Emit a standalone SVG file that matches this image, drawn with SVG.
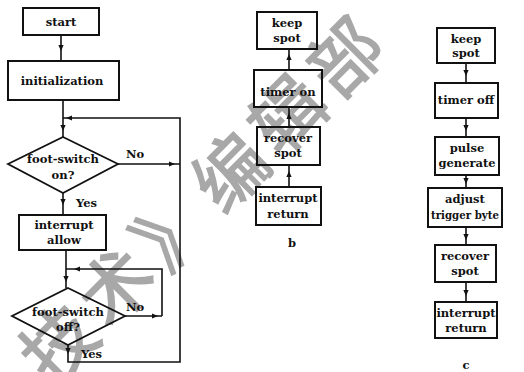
<svg xmlns="http://www.w3.org/2000/svg" xmlns:xlink="http://www.w3.org/1999/xlink" width="524" height="372" viewBox="0 0 524 372">
  <style>
    .box { fill: none; stroke: #111; stroke-width: 2; }
    .dec { fill: none; stroke: #111; stroke-width: 1.8; stroke-linejoin: miter; }
    .ln { fill: none; stroke: #111; stroke-width: 1.6; }
    .t { font-family: "DejaVu Serif", "Liberation Serif", serif; font-weight: bold; font-size: 11.5px; fill: #111; text-anchor: middle; }
    .lbl { font-family: "DejaVu Serif", "Liberation Serif", serif; font-weight: bold; font-size: 11.5px; fill: #111; }
    .wm { font-family: "Noto Sans CJK SC", sans-serif; font-weight: normal; font-size: 72px; letter-spacing: 9px; fill: #a8a8a8; stroke: #a8a8a8; stroke-width: 1.6; }
  </style>
  <defs>
    <path id="ah" d="M0,0 L-6,-2.6 L-6,2.6 Z" fill="#111"/>
  </defs>

  <!-- publisher watermark -->
  <g id="watermark">
    <text class="wm" transform="translate(52,388) rotate(-45)">技术》编辑部</text>
  </g>

  <!-- connectors -->
  <g id="connectors">
    <!-- chart a -->
    <path class="ln" d="M61,35 V61"/>
    <use xlink:href="#ah" transform="translate(61,51) rotate(90)"/>
    <path class="ln" d="M63,100 V137"/>
    <use xlink:href="#ah" transform="translate(63,131) rotate(90)"/>
    <path class="ln" d="M180,164 V118 H63"/>
    <use xlink:href="#ah" transform="translate(66,118) rotate(180)"/>
    <path class="ln" d="M118,164 H180"/>
    <use xlink:href="#ah" transform="translate(175,164)"/>
    <path class="ln" d="M63,193 V215"/>
    <use xlink:href="#ah" transform="translate(63,205) rotate(90)"/>
    <path class="ln" d="M66,250 V288"/>
    <use xlink:href="#ah" transform="translate(66,282) rotate(90)"/>
    <path class="ln" d="M162,316 V269 H66"/>
    <use xlink:href="#ah" transform="translate(74,269) rotate(180)"/>
    <path class="ln" d="M125,316 H162"/>
    <use xlink:href="#ah" transform="translate(158,316)"/>
    <path class="ln" d="M68,345 V362 H180 V164"/>
    <use xlink:href="#ah" transform="translate(68,354) rotate(90)"/>

    <!-- chart b -->
    <path class="ln" d="M289,49 V70"/>
    <use xlink:href="#ah" transform="translate(289,54) rotate(-90)"/>
    <path class="ln" d="M289,107 V127"/>
    <use xlink:href="#ah" transform="translate(289,113) rotate(-90)"/>
    <path class="ln" d="M289,165 V187"/>
    <use xlink:href="#ah" transform="translate(289,171) rotate(-90)"/>

    <!-- chart c -->
    <path class="ln" d="M466,63 V83"/>
    <use xlink:href="#ah" transform="translate(466,76) rotate(90)"/>
    <path class="ln" d="M466,118 V137"/>
    <use xlink:href="#ah" transform="translate(466,131) rotate(90)"/>
    <path class="ln" d="M466,175 V188"/>
    <use xlink:href="#ah" transform="translate(466,184) rotate(90)"/>
    <path class="ln" d="M466,227 V245"/>
    <use xlink:href="#ah" transform="translate(466,240) rotate(90)"/>
    <path class="ln" d="M466,282 V302"/>
    <use xlink:href="#ah" transform="translate(466,296) rotate(90)"/>
  </g>

  <!-- chart a nodes -->
  <g id="a-start">
    <rect class="box" x="23" y="8" width="76" height="27"/>
    <text class="t" x="61" y="26">start</text>
  </g>
  <g id="a-init">
    <rect class="box" x="8" y="61" width="111" height="39"/>
    <text class="t" x="62" y="85">initialization</text>
  </g>
  <g id="a-footswitch-on">
    <polygon class="dec" points="63,137 118,164 63,193 8,164"/>
    <text class="t" x="63" y="163">foot-switch</text>
    <text class="t" x="63" y="179">on?</text>
  </g>
  <text class="lbl" x="126" y="158">No</text>
  <text class="lbl" x="76" y="207">Yes</text>
  <g id="a-interrupt-allow">
    <rect class="box" x="19" y="215" width="87" height="35"/>
    <text class="t" x="64" y="229">interrupt</text>
    <text class="t" x="64" y="244">allow</text>
  </g>
  <g id="a-footswitch-off">
    <polygon class="dec" points="68,288 125,316 68,345 12,316"/>
    <text class="t" x="68" y="316">foot-switch</text>
    <text class="t" x="68" y="331">off?</text>
  </g>
  <text class="lbl" x="126" y="311">No</text>
  <text class="lbl" x="81" y="358">Yes</text>

  <!-- chart b nodes -->
  <g id="b-keep-spot">
    <rect class="box" x="257" y="12" width="60" height="37"/>
    <text class="t" x="287" y="27">keep</text>
    <text class="t" x="287" y="42">spot</text>
  </g>
  <g id="b-timer-on">
    <rect class="box" x="254" y="70" width="68" height="37"/>
    <text class="t" x="288" y="96">timer on</text>
  </g>
  <g id="b-recover-spot">
    <rect class="box" x="257" y="127" width="63" height="38"/>
    <text class="t" x="288" y="142">recover</text>
    <text class="t" x="288" y="157">spot</text>
  </g>
  <g id="b-interrupt-return">
    <rect class="box" x="256" y="187" width="65" height="38"/>
    <text class="t" x="288" y="202">interrupt</text>
    <text class="t" x="288" y="218">return</text>
  </g>
  <text class="t" x="292" y="247">b</text>

  <!-- chart c nodes -->
  <g id="c-keep-spot">
    <rect class="box" x="437" y="28" width="58" height="35"/>
    <text class="t" x="466" y="43">keep</text>
    <text class="t" x="466" y="57">spot</text>
  </g>
  <g id="c-timer-off">
    <rect class="box" x="435" y="83" width="63" height="35"/>
    <text class="t" x="466" y="104">timer off</text>
  </g>
  <g id="c-pulse-generate">
    <rect class="box" x="435" y="137" width="64" height="38"/>
    <text class="t" x="467" y="152">pulse</text>
    <text class="t" x="467" y="167">generate</text>
  </g>
  <g id="c-adjust-trigger">
    <rect class="box" x="428" y="188" width="74" height="39"/>
    <text class="t" x="465" y="203">adjust</text>
    <text class="t" x="465" y="219" textLength="68" lengthAdjust="spacingAndGlyphs">trigger byte</text>
  </g>
  <g id="c-recover-spot">
    <rect class="box" x="435" y="245" width="61" height="37"/>
    <text class="t" x="465" y="260">recover</text>
    <text class="t" x="465" y="275">spot</text>
  </g>
  <g id="c-interrupt-return">
    <rect class="box" x="435" y="302" width="62" height="36"/>
    <text class="t" x="466" y="317">interrupt</text>
    <text class="t" x="466" y="332">return</text>
  </g>
  <text class="t" x="466" y="369">c</text>
</svg>
